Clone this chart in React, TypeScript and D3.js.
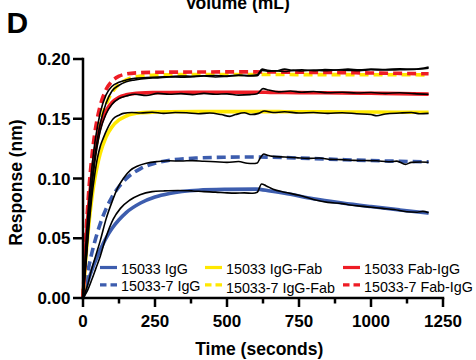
import React, { useEffect, useRef } from 'react';
import * as d3 from 'd3';

// fitted curves share one time grid (seconds)
const fitTime = [0, 10, 20, 30, 40, 50, 60, 80, 100, 125, 150, 200, 250, 300, 400, 500, 600, 650, 700, 800, 900, 1000, 1100, 1200];

const fitIgG = [0, 0.0085, 0.016, 0.0228, 0.0292, 0.035, 0.0404, 0.0502, 0.058, 0.0655, 0.0715, 0.0795, 0.0845, 0.0875, 0.0902, 0.0909, 0.0911, 0.0895, 0.0876, 0.083, 0.0795, 0.0765, 0.0737, 0.071];
const fitIgG7 = [0, 0.0139, 0.026, 0.0369, 0.0464, 0.0548, 0.0623, 0.0746, 0.0842, 0.0932, 0.0999, 0.1083, 0.1128, 0.1152, 0.1172, 0.1178, 0.118, 0.1178, 0.1175, 0.1167, 0.1158, 0.115, 0.1144, 0.1139];
const fitIgGFab = [0, 0.0343, 0.0611, 0.082, 0.0985, 0.111, 0.121, 0.1348, 0.143, 0.149, 0.1523, 0.155, 0.1556, 0.1558, 0.156, 0.156, 0.156, 0.156, 0.1559, 0.1558, 0.1557, 0.1556, 0.1555, 0.1554];
const fitIgGFab7 = [0, 0.0413, 0.0735, 0.0987, 0.118, 0.1333, 0.1453, 0.1618, 0.1717, 0.1788, 0.1826, 0.1857, 0.1865, 0.1868, 0.187, 0.187, 0.187, 0.187, 0.187, 0.1869, 0.1869, 0.1868, 0.1868, 0.1867];
const fitFabIgG = [0, 0.0446, 0.0776, 0.102, 0.12, 0.1336, 0.1436, 0.1564, 0.1634, 0.168, 0.17, 0.1716, 0.1719, 0.172, 0.1721, 0.1722, 0.1722, 0.1721, 0.172, 0.1718, 0.1716, 0.1713, 0.171, 0.1706];
const fitFabIgG7 = [0, 0.0518, 0.0894, 0.1166, 0.1365, 0.1508, 0.1612, 0.1744, 0.1813, 0.1856, 0.1875, 0.1886, 0.1889, 0.189, 0.1891, 0.1892, 0.1892, 0.1891, 0.189, 0.1888, 0.1886, 0.1883, 0.188, 0.1876];

// raw sensorgrams (black)
const rawIgGTime = [0, 15, 30, 45, 60, 80, 105, 130, 163, 198, 240, 280, 330, 380, 420, 460, 500, 530, 560, 590, 605, 620, 635, 660, 700, 750, 800, 850, 900, 927, 980, 1040, 1080, 1124, 1160, 1180, 1200];
const rawIgG = [0, 0.006, 0.015, 0.025, 0.035, 0.051, 0.066, 0.075, 0.082, 0.0865, 0.089, 0.0896, 0.09, 0.0896, 0.089, 0.0886, 0.088, 0.0878, 0.088, 0.0876, 0.0885, 0.0954, 0.094, 0.091, 0.0885, 0.086, 0.0825, 0.08, 0.079, 0.0778, 0.0765, 0.075, 0.074, 0.0722, 0.0718, 0.0725, 0.0714];

const rawIgG7Time = [0, 15, 30, 45, 60, 80, 100, 120, 140, 165, 190, 220, 260, 300, 340, 380, 420, 460, 500, 540, 570, 590, 605, 615, 628, 640, 660, 700, 740, 780, 820, 860, 900, 940, 980, 1020, 1060, 1090, 1120, 1140, 1170, 1200];
const rawIgG7 = [0, 0.01, 0.024, 0.036, 0.048, 0.066, 0.08, 0.092, 0.1, 0.107, 0.1105, 0.1128, 0.1142, 0.1148, 0.1146, 0.115, 0.1144, 0.114, 0.1135, 0.1142, 0.1128, 0.1125, 0.113, 0.117, 0.1205, 0.1195, 0.1185, 0.118, 0.1175, 0.1168, 0.1172, 0.116, 0.1158, 0.1152, 0.115, 0.1148, 0.114, 0.1145, 0.1118, 0.1135, 0.1138, 0.1136];

const rawIgGFabTime = [0, 10, 20, 30, 40, 50, 60, 70, 85, 105, 125, 140, 170, 200, 240, 280, 320, 360, 400, 440, 480, 510, 530, 560, 585, 610, 630, 660, 700, 750, 800, 850, 900, 950, 1000, 1020, 1050, 1100, 1140, 1170, 1200];
const rawIgGFab = [0, 0.028, 0.058, 0.083, 0.102, 0.117, 0.127, 0.1336, 0.142, 0.15, 0.153, 0.1545, 0.1552, 0.1548, 0.1555, 0.1545, 0.1552, 0.155, 0.1542, 0.1548, 0.1535, 0.152, 0.1535, 0.155, 0.1535, 0.1545, 0.1565, 0.1552, 0.1558, 0.1548, 0.1552, 0.1545, 0.155, 0.1542, 0.1535, 0.1525, 0.154, 0.1548, 0.1552, 0.1542, 0.1545];

const rawFabIgGTime = [0, 10, 20, 30, 40, 50, 60, 80, 100, 125, 150, 180, 220, 260, 300, 340, 380, 420, 460, 500, 540, 580, 605, 625, 645, 680, 720, 760, 800, 850, 900, 950, 1000, 1050, 1100, 1150, 1200];
const rawFabIgG = [0, 0.03, 0.062, 0.09, 0.112, 0.128, 0.14, 0.154, 0.162, 0.167, 0.169, 0.1705, 0.1695, 0.1712, 0.1705, 0.171, 0.1702, 0.1712, 0.1705, 0.1708, 0.1698, 0.1702, 0.171, 0.1752, 0.174, 0.1725, 0.1732, 0.1722, 0.1728, 0.1718, 0.1722, 0.1715, 0.172, 0.1712, 0.1718, 0.171, 0.1705];

const rawTopTime = [0, 10, 20, 30, 40, 50, 60, 80, 100, 125, 150, 180, 220, 260, 300, 340, 380, 420, 460, 500, 540, 580, 605, 622, 640, 670, 700, 730, 760, 800, 840, 880, 920, 960, 1000, 1050, 1100, 1150, 1200];
const rawFabIgG7 = [0, 0.045, 0.08, 0.107, 0.128, 0.143, 0.155, 0.17, 0.177, 0.1805, 0.1825, 0.1838, 0.1845, 0.185, 0.1852, 0.1858, 0.1855, 0.186, 0.1862, 0.1858, 0.1865, 0.1862, 0.1868, 0.1915, 0.1905, 0.19, 0.1915, 0.1905, 0.191, 0.1902, 0.1912, 0.1908, 0.1915, 0.191, 0.1915, 0.1912, 0.1918, 0.1915, 0.1932];
const rawIgGFab7 = [0, 0.038, 0.07, 0.096, 0.117, 0.133, 0.146, 0.163, 0.173, 0.178, 0.181, 0.1825, 0.1838, 0.1842, 0.185, 0.1848, 0.1852, 0.1858, 0.185, 0.1855, 0.1862, 0.1858, 0.186, 0.1905, 0.1898, 0.1902, 0.1895, 0.1905, 0.19, 0.1908, 0.1902, 0.1908, 0.1905, 0.1902, 0.191, 0.1908, 0.191, 0.1912, 0.1922];

const seriesNames = ['15033 IgG', '15033-7 IgG', '15033 IgG-Fab', '15033-7 IgG-Fab', '15033 Fab-IgG', '15033-7 Fab-IgG'];
const seriesColors = ['#3D5DAE', '#3D5DAE', '#FFE800', '#FFE800', '#EE1C25', '#EE1C25'];
const seriesDashed = [false, true, false, true, false, true];

const xTicks = [0, 250, 500, 750, 1000, 1250];
const xMinorTicks = [125, 375, 625, 875, 1125];
const yTicks = [0, 0.05, 0.1, 0.15, 0.2];

const FONT = '"Liberation Sans", Arial, sans-serif';

const App = () => {
  const ref = useRef<SVGSVGElement>(null);

  useEffect(() => {
    const width = 476;
    const height = 360;
    const margin = { top: 59, right: 33, bottom: 62, left: 83 };
    const innerWidth = width - margin.left - margin.right;
    const innerHeight = height - margin.top - margin.bottom;

    const svg = d3.select(ref.current).attr('width', width).attr('height', height);
    svg.selectAll('*').remove();

    // panel letter + cut-off title from the figure above
    svg.append('text').attr('x', 6.5).attr('y', 33.3)
      .style('font-family', FONT).style('font-size', '30px').style('font-weight', 'bold')
      .text('D');
    svg.append('text').attr('x', 237.5).attr('y', 8.5).attr('text-anchor', 'middle')
      .style('font-family', FONT).style('font-size', '17.5px').style('font-weight', 'bold')
      .text('Volume (mL)');

    const g = svg.append('g').attr('transform', `translate(${margin.left},${margin.top})`);

    const x = d3.scaleLinear().domain([0, 1250]).range([0, innerWidth]);
    const y = d3.scaleLinear().domain([0, 0.2]).range([innerHeight, 0]);

    const fits = [fitIgG, fitIgG7, fitIgGFab, fitIgGFab7, fitFabIgG, fitFabIgG7];
    const raws = [
      [rawIgGTime, rawIgG],
      [rawIgG7Time, rawIgG7],
      [rawIgGFabTime, rawIgGFab],
      [rawTopTime, rawIgGFab7],
      [rawFabIgGTime, rawFabIgG],
      [rawTopTime, rawFabIgG7],
    ];

    const fitLine = d3.line<number>()
      .x((_, i) => x(fitTime[i]))
      .y(d => y(d))
      .curve(d3.curveMonotoneX);

    // fitted curves (coloured, thick)
    fits.forEach((vals, i) => {
      g.append('path')
        .datum(vals)
        .attr('fill', 'none')
        .attr('stroke', seriesColors[i])
        .attr('stroke-width', 3.6)
        .attr('stroke-dasharray', seriesDashed[i] ? '9,5' : null)
        .attr('d', fitLine);
    });

    // raw data (black, thin)
    raws.forEach(([times, vals]) => {
      const rawLine = d3.line<number>()
        .x((_, i) => x(times[i]))
        .y(d => y(d))
        .curve(d3.curveMonotoneX);
      g.append('path')
        .datum(vals)
        .attr('fill', 'none')
        .attr('stroke', '#000')
        .attr('stroke-width', 1.6)
        .attr('stroke-linejoin', 'round')
        .attr('d', rawLine);
    });

    // x axis
    const xAxis = g.append('g').attr('transform', `translate(0,${innerHeight})`);
    xAxis.append('line').attr('x1', 0).attr('x2', innerWidth)
      .attr('stroke', '#000').attr('stroke-width', 2.5).attr('stroke-linecap', 'square');
    xTicks.forEach(t => {
      xAxis.append('line').attr('x1', x(t)).attr('x2', x(t)).attr('y1', 0).attr('y2', 9)
        .attr('stroke', '#000').attr('stroke-width', 2.5);
      xAxis.append('text').attr('x', x(t)).attr('y', 28.5).attr('text-anchor', 'middle')
        .style('font-family', FONT).style('font-size', '17px').style('font-weight', 'bold')
        .text(String(t));
    });
    xMinorTicks.forEach(t => {
      xAxis.append('line').attr('x1', x(t)).attr('x2', x(t)).attr('y1', 0).attr('y2', 5.5)
        .attr('stroke', '#000').attr('stroke-width', 2.5);
    });
    xAxis.append('text').attr('x', x(612)).attr('y', 56.5).attr('text-anchor', 'middle')
      .style('font-family', FONT).style('font-size', '17.5px').style('font-weight', 'bold')
      .text('Time (seconds)');

    // y axis
    const yAxis = g.append('g');
    yAxis.append('line').attr('y1', 0).attr('y2', innerHeight)
      .attr('stroke', '#000').attr('stroke-width', 2.5).attr('stroke-linecap', 'square');
    yTicks.forEach(t => {
      yAxis.append('line').attr('x1', -10).attr('x2', 0).attr('y1', y(t)).attr('y2', y(t))
        .attr('stroke', '#000').attr('stroke-width', 2.5);
      yAxis.append('text').attr('x', -12.5).attr('y', y(t)).attr('dy', '0.36em').attr('text-anchor', 'end')
        .style('font-family', FONT).style('font-size', '17px').style('font-weight', 'bold')
        .text(t.toFixed(2));
    });
    svg.append('text')
      .attr('transform', `translate(22,${margin.top + innerHeight / 2 + 4}) rotate(-90)`)
      .attr('text-anchor', 'middle')
      .style('font-family', FONT).style('font-size', '17.5px').style('font-weight', 'bold')
      .text('Response (nm)');

    // legend: 3 columns x 2 rows
    const colX = [100, 205, 343];
    const rowY = [267.5, 284.8];
    const rowBase = [[274, 274, 274], [290.5, 293, 291.5]];
    seriesNames.forEach((name, i) => {
      const col = Math.floor(i / 2);
      const row = i % 2;
      svg.append('line')
        .attr('x1', colX[col]).attr('x2', colX[col] + 17)
        .attr('y1', rowY[row]).attr('y2', rowY[row])
        .attr('stroke', seriesColors[i]).attr('stroke-width', 3.2)
        .attr('stroke-dasharray', seriesDashed[i] ? '6.5,4' : null);
      svg.append('text')
        .attr('x', colX[col] + 21).attr('y', rowBase[row][col])
        .style('font-family', FONT).style('font-size', '14.3px')
        .text(name);
    });
  }, []);

  return <svg ref={ref} style={{ position: 'absolute', left: 0, top: 0, display: 'block' }} />;
};

export default App;
